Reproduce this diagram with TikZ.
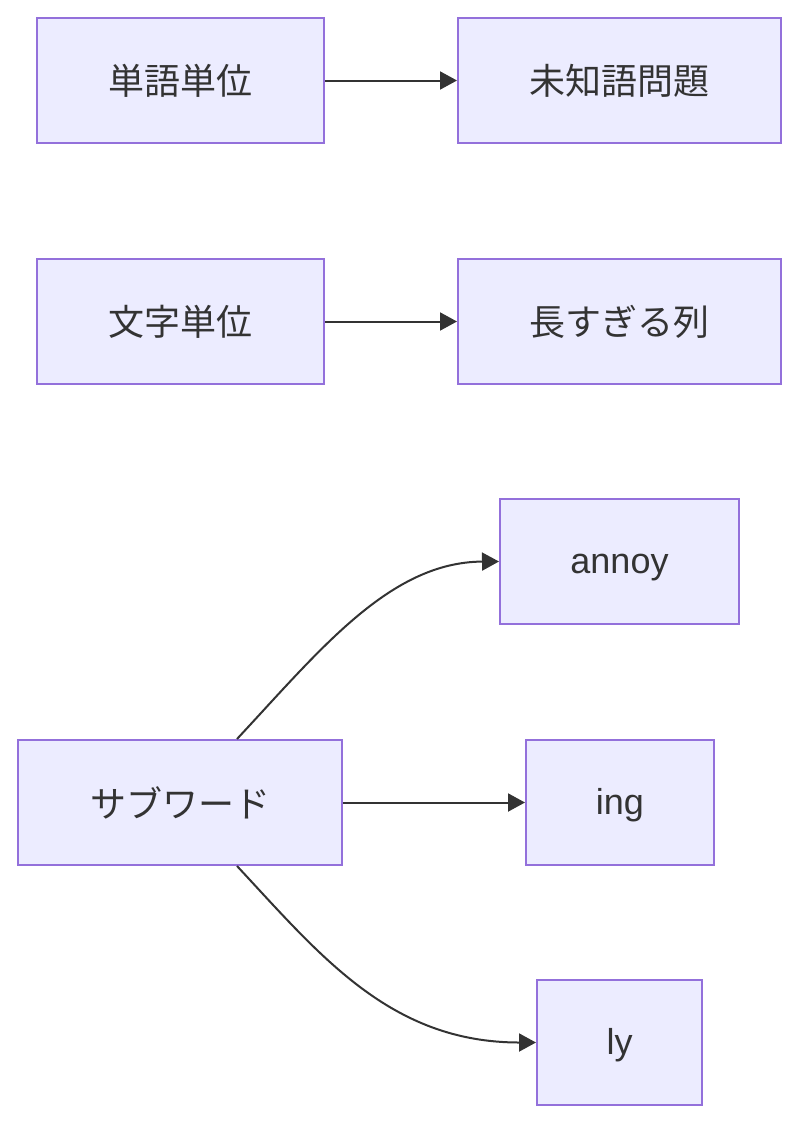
\documentclass[tikz,border=0pt]{standalone}
\usepackage{fontspec}
\setmainfont{Liberation Sans}
\newfontfamily\jpfont{Noto Sans CJK JP}
\usetikzlibrary{arrows.meta,positioning}
\definecolor{boxfill}{HTML}{ECECFF}
\definecolor{boxline}{HTML}{9370DB}
\definecolor{inkgray}{HTML}{333333}

\begin{document}
\begin{tikzpicture}[x=1pt, y=-1pt,
  box/.style={draw=boxline, line width=2pt, fill=boxfill, minimum height=125pt,
    inner sep=0pt, text=inkgray, font=\fontsize{36}{43}\selectfont},
  latin/.style={box, text height=27pt, text depth=4pt},
  link/.style={draw=inkgray, line width=2pt, -{Triangle[length=17pt,width=18pt]}}]
  \useasboundingbox (0,0) rectangle (800,1124);
  % word / character level
  \node[box, minimum width=287pt] (word) at (180.5,80.5) {\jpfont 単語単位};
  \node[box, minimum width=323pt] (oov) at (619.5,80.5) {\jpfont 未知語問題};
  \node[box, minimum width=287pt] (char) at (180.5,321.5) {\jpfont 文字単位};
  \node[box, minimum width=323pt] (long) at (619.5,321.5) {\jpfont 長すぎる列};
  % subword
  \node[box, minimum width=324pt] (sub) at (180,802.5) {\jpfont サブワード};
  \node[latin, minimum width=239pt] (annoy) at (619.5,561.5) {annoy};
  \node[latin, minimum width=188pt] (ing) at (620,802.5) {ing};
  \node[latin, minimum width=165pt] (ly) at (619.5,1042.5) {ly};
  \draw[link] (word) -- (oov);
  \draw[link] (char) -- (long);
  \draw[link] ([xshift=57pt]sub.north) .. controls (320,650) and (390,562) .. (annoy.west);
  \draw[link] (sub) -- (ing);
  \draw[link] ([xshift=57pt]sub.south) .. controls (320,955) and (390,1042.5) .. (ly.west);
\end{tikzpicture}
\end{document}
